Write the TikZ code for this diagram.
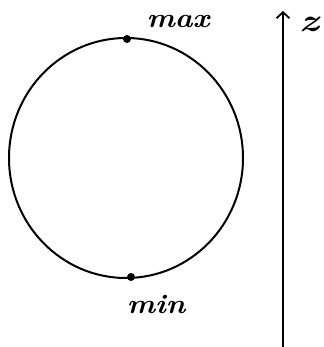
\documentclass[tikz,border=0pt]{standalone}
\usetikzlibrary{arrows.meta,shapes.geometric}
\begin{document}
\begin{tikzpicture}[x=1pt,y=-1pt,
  stroke/.style={line width=2pt,black},
  pt/.style={circle,fill=black,inner sep=0pt,minimum size=8pt},
  lbl/.style={inner sep=0pt,font=\fontsize{20}{20}\selectfont\bfseries\itshape}]
\useasboundingbox (0,0) rectangle (323,347);
\node[draw,stroke,ellipse,minimum width=234pt,minimum height=240pt,inner sep=0pt] (orb) at (126,158) {};
\node[pt] (max) at (127,39) {};
\node[pt] (min) at (131,277) {};
\node[lbl] (maxl) at (178,22) {\scalebox{1.5}[1.35]{max}};
\node[lbl] (minl) at (156,305) {\scalebox{1.5}[1.35]{min}};
\coordinate (zb) at (283,347);
\coordinate (zt) at (283,11);
\draw[stroke,-{Straight Barb[length=6pt,width=13pt,line width=1.8pt]}] (zb) -- (zt);
\node[lbl] (zl) at (309,24) {\scalebox{2}[1.6]{z}};
\end{tikzpicture}
\end{document}
